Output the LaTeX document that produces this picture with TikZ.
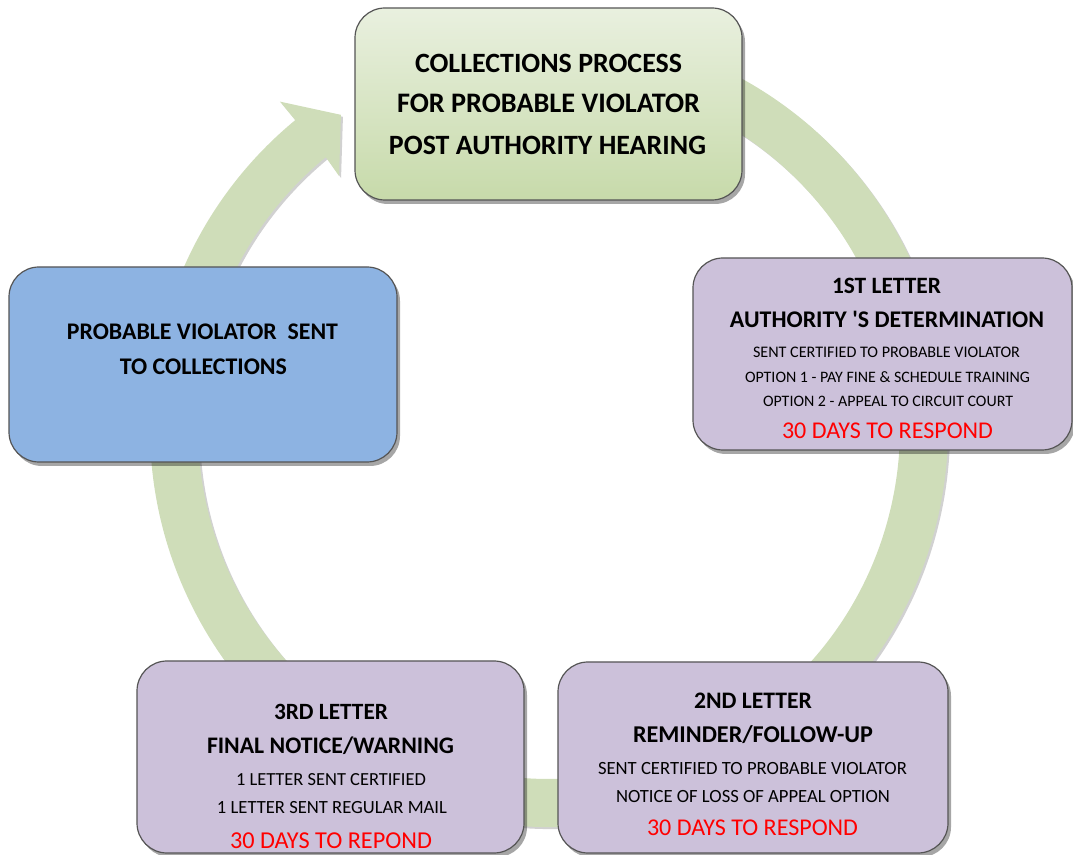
\documentclass[tikz,border=0pt]{standalone}
\usepackage{fontspec}
\setmainfont{Carlito}
\usepackage{graphicx}
\usetikzlibrary{shadows}
\definecolor{ringgreen}{RGB}{207,221,185}
\definecolor{lav}{RGB}{204,193,218}
\definecolor{bluebox}{RGB}{141,179,226}
\definecolor{gtop}{RGB}{233,240,223}
\definecolor{gbot}{RGB}{199,218,170}
\definecolor{boxline}{RGB}{85,85,85}
\definecolor{redtxt}{RGB}{255,0,0}
\newcommand\fitline[2]{\resizebox{#1pt}{!}{#2}}
\begin{document}
\begin{tikzpicture}[x=1pt,y=1pt,
  box/.style={draw=boxline, line width=1.2pt, rounded corners=30pt, inner sep=0pt,
    drop shadow={shadow xshift=3pt, shadow yshift=-4pt, opacity=0.35, fill=black}},
  ln/.style={anchor=base, inner sep=0pt, text=black},
  bln/.style={ln, font=\bfseries\fontsize{20}{20}\selectfont},
  sln/.style={ln, font=\fontsize{16}{16}\selectfont},
  rln/.style={ln, text=redtxt, font=\fontsize{20}{20}\selectfont},
]
\useasboundingbox (0,0) rectangle (1073,854);

% circular arrow
\begin{scope}[shift={(549,426)}]
\fill[ringgreen, drop shadow={shadow xshift=2pt, shadow yshift=-2pt, opacity=0.18, fill=black}]
  (115:399) arc[start angle=115, end angle=-230.5, radius=399pt]
  -- (129.5:423) -- (123.6:376) -- (129.8:328) -- (129.5:351)
  arc[start angle=-230.5, end angle=115, radius=351pt] -- cycle;
\end{scope}

% boxes
\node[box, top color=gtop, bottom color=gbot, minimum width=387pt, minimum height=192pt] (top) at (548.5,750) {};
\node[box, fill=lav, minimum width=379pt, minimum height=192pt] (first) at (882.5,500) {};
\node[box, fill=bluebox, minimum width=388pt, minimum height=195pt] (coll) at (203,489.5) {};
\node[box, fill=lav, minimum width=387pt, minimum height=192pt] (third) at (330.5,97) {};
\node[box, fill=lav, minimum width=390pt, minimum height=191pt] (second) at (753,96.5) {};

% top box text
\node[bln] (c1) at (548.5,781) {\fitline{267}{COLLECTIONS PROCESS}};
\node[bln] (c2) at (548.5,741) {\fitline{303}{FOR PROBABLE VIOLATOR}};
\node[bln] (c3) at (547.5,699) {\fitline{317}{POST AUTHORITY HEARING}};

% first letter
\node[bln] (r1) at (886.5,560) {\fitline{109}{1ST LETTER}};
\node[bln] (r2) at (887,526) {\fitline{314}{AUTHORITY \textquotesingle S DETERMINATION}};
\node[sln] (r3) at (886.5,496) {\fitline{267}{SENT CERTIFIED TO PROBABLE VIOLATOR}};
\node[sln] (r4) at (887.5,471) {\fitline{285}{OPTION 1 - PAY FINE \& SCHEDULE TRAINING}};
\node[sln] (r5) at (888,447) {\fitline{250}{OPTION 2 - APPEAL TO CIRCUIT COURT}};
\node[rln] (r6) at (887.5,415) {\fitline{211}{30 DAYS TO RESPOND}};

% collections box
\node[bln] (b1) at (202.5,514) {\fitline{271}{PROBABLE VIOLATOR\ \ SENT}};
\node[bln] (b2) at (203.5,479) {\fitline{167}{TO COLLECTIONS}};

% third letter
\node[bln] (p1) at (331,135) {\fitline{114}{3RD LETTER}};
\node[bln] (p2) at (330.5,101) {\fitline{247}{FINAL NOTICE/WARNING}};
\node[sln] (p3) at (331,69) {\fitline{190}{1 LETTER SENT CERTIFIED}};
\node[sln] (p4) at (332,41) {\fitline{230}{1 LETTER SENT REGULAR MAIL}};
\node[rln] (p5) at (331,6) {\fitline{202}{30 DAYS TO REPOND}};

% second letter
\node[bln] (q1) at (753,146) {\fitline{118}{2ND LETTER}};
\node[bln] (q2) at (753,111) {\fitline{240}{REMINDER/FOLLOW-UP}};
\node[sln] (q3) at (752.5,80) {\fitline{309}{SENT CERTIFIED TO PROBABLE VIOLATOR}};
\node[sln] (q4) at (753,52) {\fitline{274}{NOTICE OF LOSS OF APPEAL OPTION}};
\node[rln] (q5) at (752.5,19) {\fitline{211}{30 DAYS TO RESPOND}};
\end{tikzpicture}
\end{document}
